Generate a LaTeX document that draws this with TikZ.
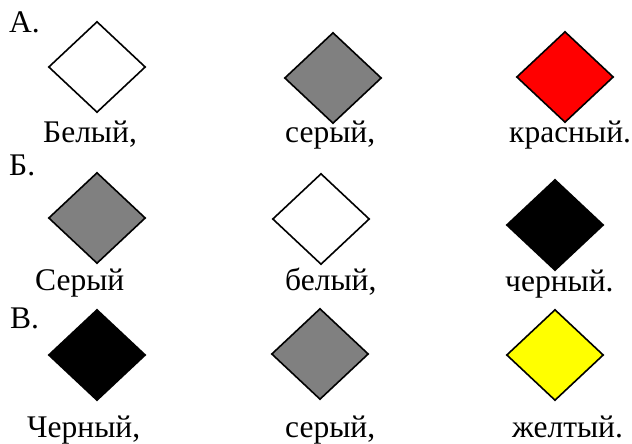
\documentclass[tikz,border=0pt]{standalone}
\usepackage{fontspec}
\setmainfont{Liberation Serif}
\newfontfamily\rusfont[Script=Cyrillic]{Liberation Serif}
\usetikzlibrary{shapes.geometric}
\tikzset{
  dia/.style={diamond, draw=black, line width=1.6pt, minimum width=97pt, minimum height=91pt, inner sep=0pt},
  lab/.style={anchor=base west, inner sep=0pt, font=\rusfont\fontsize{31.5}{37}\selectfont}
}
\definecolor{dgray}{RGB}{128,128,128}
\definecolor{dred}{RGB}{255,0,0}
\definecolor{dyellow}{RGB}{255,255,0}
\begin{document}
\begin{tikzpicture}[x=1pt,y=-1pt]
\useasboundingbox (0,0) rectangle (632,444);
% Row A
\node[lab] (la) at (9,33) {А.};
\node[dia, fill=white] (a1) at (97,67) {};
\node[dia, fill=dgray] (a2) at (333,78) {};
\node[dia, fill=dred] (a3) at (565,77) {};
\node[lab] (ta1) at (43,142) {Белый,};
\node[lab] (ta2) at (285,142) {серый,};
\node[lab] (ta3) at (509,142) {красный.};
% Row B
\node[lab] (lb) at (9,175) {Б.};
\node[dia, fill=dgray] (b1) at (97,218) {};
\node[dia, fill=white] (b2) at (321,219) {};
\node[dia, fill=black] (b3) at (555,225) {};
\node[lab] (tb1) at (35,290) {Серый};
\node[lab] (tb2) at (285,290) {белый,};
\node[lab] (tb3) at (505,291) {черный.};
% Row C
\node[lab] (lc) at (10,328) {В.};
\node[dia, fill=black] (c1) at (97,355) {};
\node[dia, fill=dgray] (c2) at (320,354) {};
\node[dia, fill=dyellow] (c3) at (555,355) {};
\node[lab] (tc1) at (27,437) {Черный,};
\node[lab] (tc2) at (285,437) {серый,};
\node[lab] (tc3) at (512,437) {желтый.};
\end{tikzpicture}
\end{document}
